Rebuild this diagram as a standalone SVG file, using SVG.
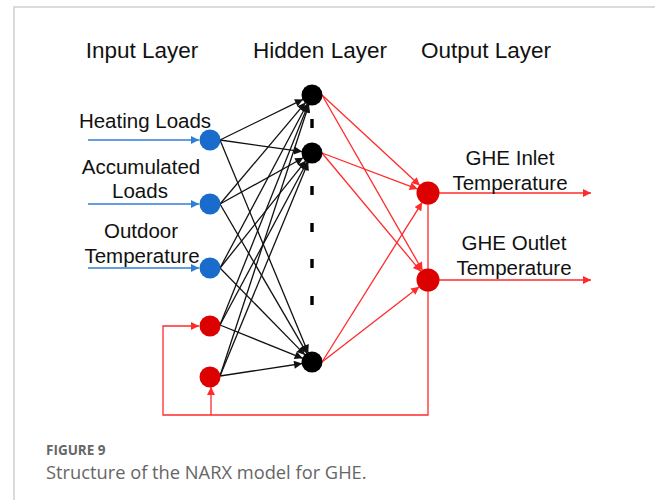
<svg xmlns="http://www.w3.org/2000/svg" width="655" height="500" viewBox="0 0 655 500">
<defs>
<style>
.lbl{font-family:"Liberation Sans",Arial,sans-serif;font-size:20.5px;fill:#111}
.hdr{font-family:"Liberation Sans",Arial,sans-serif;font-size:22.5px;fill:#111}
.blk{stroke:#111;stroke-width:1.3;fill:none;marker-end:url(#ab)}
.red{stroke:#ff2a2a;stroke-width:1.3;fill:none;marker-end:url(#ar)}
.blu{stroke:#2f7fd6;stroke-width:1.4;fill:none;marker-end:url(#au)}
.nb{fill:#1a6ccc}
.nr{fill:#dd0000}
.nk{fill:#000}
.cap{font-family:"Open Sans","Noto Sans",sans-serif;fill:#666}
</style>
<marker id="ab" viewBox="0 0 10 10" refX="10" refY="5" markerWidth="10" markerHeight="8" markerUnits="userSpaceOnUse" orient="auto"><path d="M0,0L10,5L0,10z" fill="#111"/></marker>
<marker id="ar" viewBox="0 0 10 10" refX="10" refY="5" markerWidth="11" markerHeight="8" markerUnits="userSpaceOnUse" orient="auto"><path d="M0,0L10,5L0,10z" fill="#ff2a2a"/></marker>
<marker id="au" viewBox="0 0 10 10" refX="10" refY="5" markerWidth="12" markerHeight="8" markerUnits="userSpaceOnUse" orient="auto"><path d="M0,0L10,5L0,10z" fill="#2f7fd6"/></marker>
</defs>
<rect width="655" height="500" fill="#fff"/>
<path d="M14,500V7H655" stroke="#d0d0d0" stroke-width="1.5" fill="none"/>

<g id="headers">
<text class="hdr" x="142" y="58" text-anchor="middle">Input Layer</text>
<text class="hdr" x="320" y="58" text-anchor="middle">Hidden Layer</text>
<text class="hdr" x="486" y="58" text-anchor="middle">Output Layer</text>
</g>

<g id="connectors">
<line class="blu" x1="88" y1="140" x2="199" y2="140"/>
<line class="blu" x1="88" y1="204" x2="199" y2="204"/>
<line class="blu" x1="88" y1="268" x2="199" y2="268"/>
<line class="blk" x1="220" y1="140" x2="303" y2="99.4"/>
<line class="blk" x1="220" y1="204" x2="305.5" y2="102.6"/>
<line class="blk" x1="220" y1="268" x2="307.3" y2="103.8"/>
<line class="blk" x1="220" y1="325" x2="308.3" y2="104.3"/>
<line class="blk" x1="220" y1="376" x2="308.9" y2="104.5"/>
<line class="blk" x1="220" y1="140" x2="302.1" y2="151.6"/>
<line class="blk" x1="220" y1="204" x2="303.3" y2="157.8"/>
<line class="blk" x1="220" y1="268" x2="305.8" y2="160.8"/>
<line class="blk" x1="220" y1="325" x2="307.3" y2="161.8"/>
<line class="blk" x1="220" y1="376" x2="308.2" y2="162.2"/>
<line class="blk" x1="220" y1="140" x2="308.2" y2="352.8"/>
<line class="blk" x1="220" y1="204" x2="307" y2="353.4"/>
<line class="blk" x1="220" y1="268" x2="305" y2="354.9"/>
<line class="blk" x1="220" y1="325" x2="302.7" y2="358.3"/>
<line class="blk" x1="220" y1="376" x2="302.1" y2="363.5"/>
<line class="red" x1="322" y1="95" x2="419.9" y2="185.5"/>
<line class="red" x1="322" y1="153" x2="417.7" y2="189.1"/>
<line class="red" x1="322" y1="362" x2="422.2" y2="202.3"/>
<line class="red" x1="322" y1="95" x2="422.5" y2="270.5"/>
<line class="red" x1="322" y1="153" x2="421" y2="271.6"/>
<line class="red" x1="322" y1="362" x2="419.3" y2="286.7"/>
<line class="red" x1="439" y1="193" x2="591" y2="193"/>
<line class="red" x1="439" y1="280" x2="591" y2="280"/>
<polyline class="red" points="428,193 428,415 163,415 163,326 199,326"/>
<line class="red" x1="211" y1="415" x2="211" y2="387"/>
</g>

<g id="hidden-dashes" stroke="#000" stroke-width="3.4">
<line x1="312" y1="119" x2="312" y2="128"/>
<line x1="312" y1="186" x2="312" y2="195"/>
<line x1="312" y1="223" x2="312" y2="232"/>
<line x1="312" y1="259" x2="312" y2="268"/>
<line x1="312" y1="296" x2="312" y2="305"/>
</g>

<g id="in1"><circle class="nb" cx="210" cy="140" r="10.5"/><text class="lbl" x="145" y="128" text-anchor="middle">Heating Loads</text></g>
<g id="in2"><circle class="nb" cx="210" cy="204" r="10.5"/><text class="lbl" x="141" y="174" text-anchor="middle">Accumulated</text><text class="lbl" x="140" y="198" text-anchor="middle">Loads</text></g>
<g id="in3"><circle class="nb" cx="210" cy="268" r="10.5"/><text class="lbl" x="141" y="238" text-anchor="middle">Outdoor</text><text class="lbl" x="142" y="263" text-anchor="middle">Temperature</text></g>
<g id="fb1"><circle class="nr" cx="210" cy="326" r="10.5"/></g>
<g id="fb2"><circle class="nr" cx="210" cy="377" r="10.5"/></g>
<g id="h1"><circle class="nk" cx="312" cy="95" r="10.5"/></g>
<g id="h2"><circle class="nk" cx="312" cy="153" r="10.5"/></g>
<g id="h3"><circle class="nk" cx="312" cy="362" r="10.5"/></g>
<g id="out1"><circle class="nr" cx="428" cy="193" r="11.5"/><text class="lbl" x="510" y="165" text-anchor="middle">GHE Inlet</text><text class="lbl" x="510" y="190" text-anchor="middle">Temperature</text></g>
<g id="out2"><circle class="nr" cx="428" cy="280" r="11.5"/><text class="lbl" x="514" y="250" text-anchor="middle">GHE Outlet</text><text class="lbl" x="514" y="275" text-anchor="middle">Temperature</text></g>

<g id="caption">
<text class="cap" x="46" y="455" font-size="13.5" font-weight="bold">FIGURE 9</text>
<text class="cap" x="46" y="479" font-size="18.3">Structure of the NARX model for GHE.</text>
</g>
</svg>
